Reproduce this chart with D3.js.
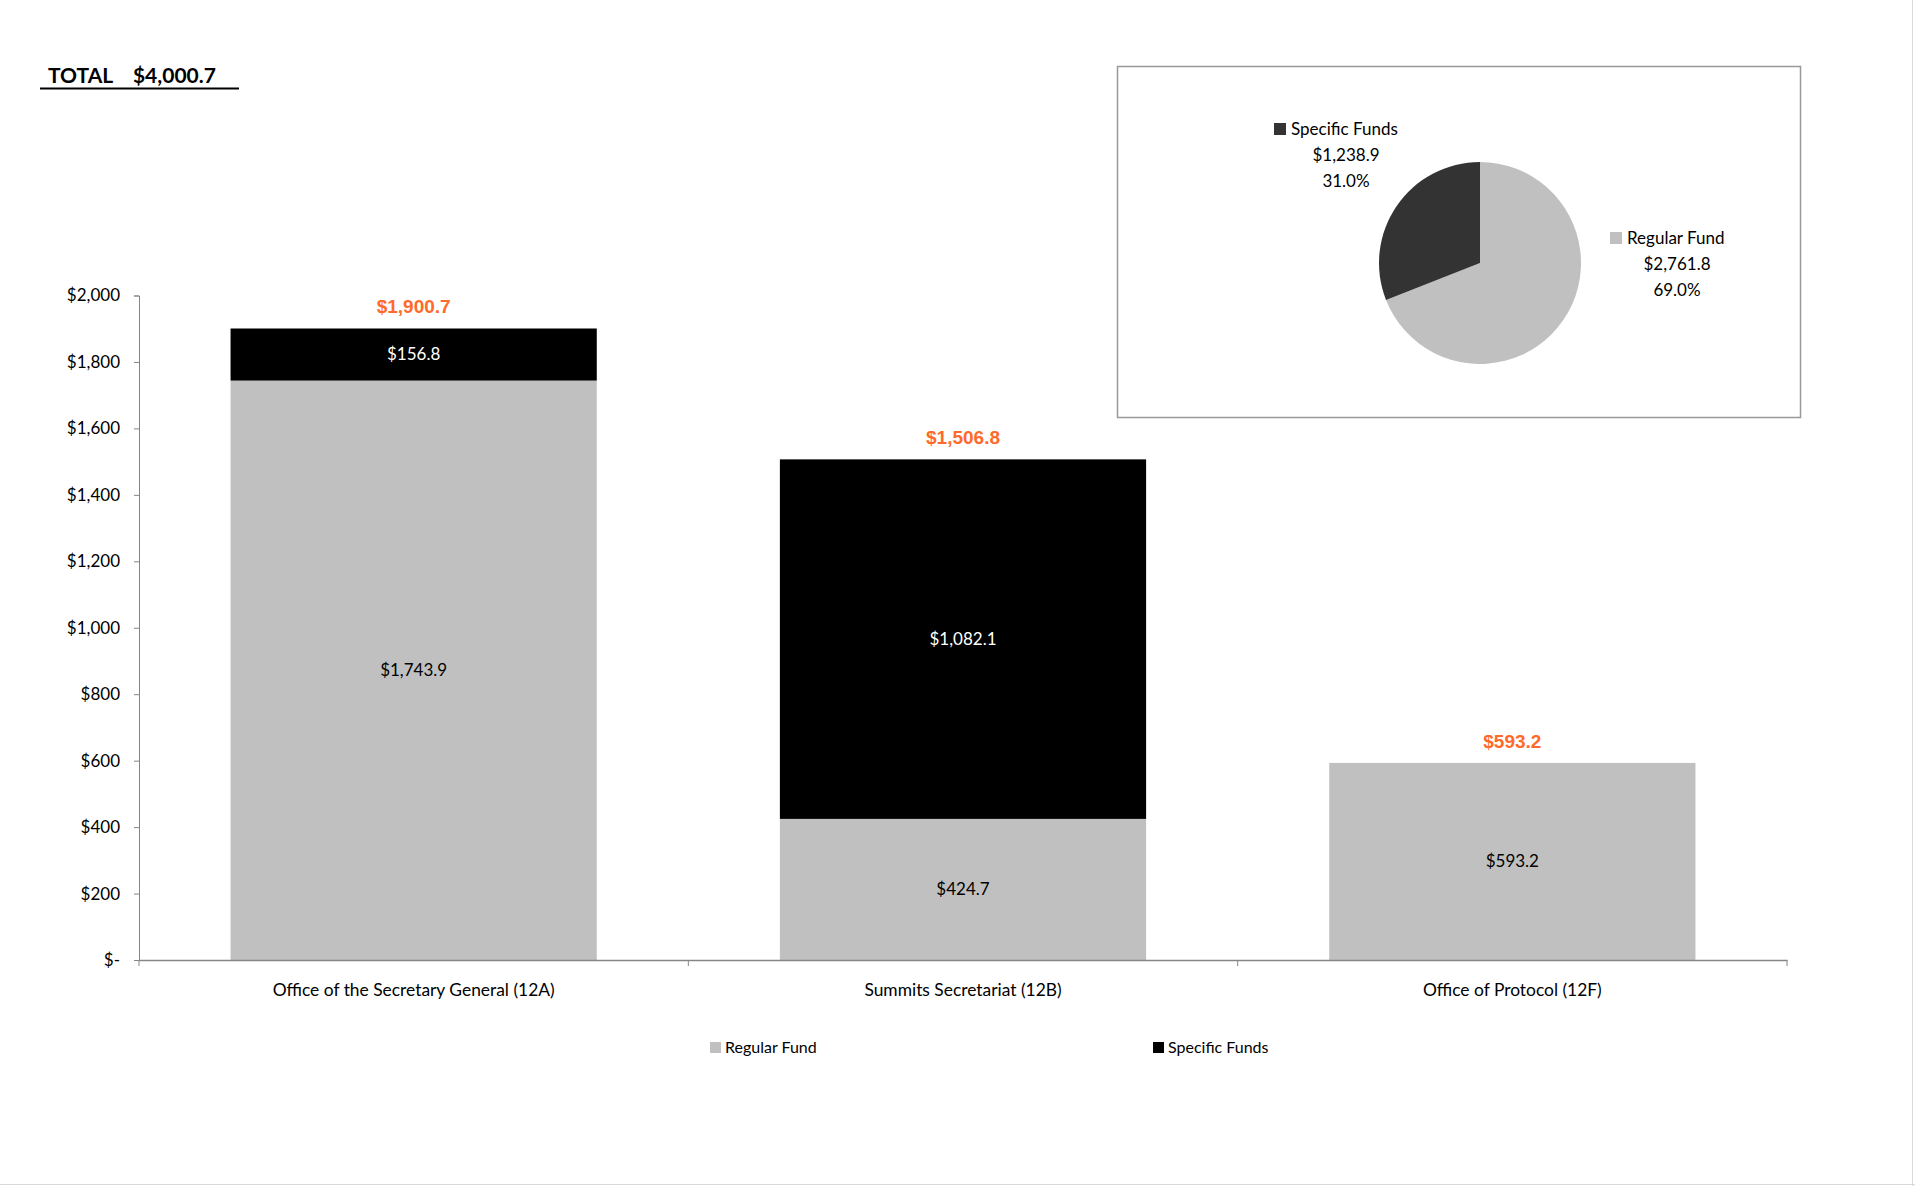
<!DOCTYPE html>
<html><head><meta charset="utf-8">
<script src="https://cdn.jsdelivr.net/npm/d3@7"></script>
<style>
html,body{margin:0;padding:0;background:#fff;}
svg{font-family:Lato,"Open Sans",sans-serif;}
</style></head>
<body>
<svg id="chart" width="1915" height="1186"></svg>
<script>
const categories = ["Office of the Secretary General (12A)", "Summits Secretariat (12B)", "Office of Protocol (12F)"];
const regularFund = [1743.9, 424.7, 593.2];
const specificFunds = [156.8, 1082.1, 0];
const totals = [1900.7, 1506.8, 593.2];
const yTicks = [0, 200, 400, 600, 800, 1000, 1200, 1400, 1600, 1800, 2000];
const seriesNames = ["Regular Fund", "Specific Funds"];
const pieNames = ["Regular Fund", "Specific Funds"];
const pieValues = [2761.8, 1238.9];
const piePercents = ["69.0%", "31.0%"];
const grandTotal = "$4,000.7";

const svg = d3.select("#chart");
const fmt = d3.format(",.1f");
const money = v => "$" + fmt(v);

// page border
svg.append("line").attr("x1",0).attr("x2",1915).attr("y1",1184.5).attr("y2",1184.5).attr("stroke","#d9d9d9").attr("stroke-width",1);
svg.append("line").attr("x1",1912.5).attr("x2",1912.5).attr("y1",0).attr("y2",1186).attr("stroke","#d9d9d9").attr("stroke-width",1);

// TOTAL header
svg.append("text").attr("x",48).attr("y",83).attr("font-size",21).attr("font-weight","bold").attr("fill","#000")
  .attr("xml:space","preserve").text("TOTAL    " + grandTotal);
svg.append("line").attr("x1",40).attr("x2",239).attr("y1",88.5).attr("y2",88.5).attr("stroke","#000").attr("stroke-width",2);

// Bar chart
const x = d3.scaleBand().domain(categories).range([139, 1787]).paddingInner(1/3).paddingOuter(1/6);
const y = d3.scaleLinear().domain([0, 2000]).range([960, 295.5]);

const stackData = categories.map((c,i)=>({cat:c, "Regular Fund":regularFund[i], "Specific Funds":specificFunds[i]}));
const stack = d3.stack().keys(seriesNames)(stackData);
const colors = {"Regular Fund":"#c0c0c0","Specific Funds":"#000000"};
const labelColors = {"Regular Fund":"#000","Specific Funds":"#fff"};

stack.forEach(s=>{
  const g = svg.append("g");
  g.selectAll("rect").data(s.filter(d=>d[1]-d[0]>0)).join("rect")
    .attr("x", d=>x(d.data.cat)).attr("width", x.bandwidth())
    .attr("y", d=>y(d[1])).attr("height", d=>y(d[0])-y(d[1]))
    .attr("fill", colors[s.key]);
  g.selectAll("text").data(s.filter(d=>d[1]-d[0]>0)).join("text")
    .attr("x", d=>x(d.data.cat)+x.bandwidth()/2)
    .attr("y", d=>(y(d[0])+y(d[1]))/2)
    .attr("dy","0.35em").attr("text-anchor","middle").attr("font-size",17)
    .attr("fill", labelColors[s.key])
    .text(d=>money(d[1]-d[0]));
});

// total labels
svg.append("g").selectAll("text").data(totals).join("text")
  .attr("x",(d,i)=>x(categories[i])+x.bandwidth()/2)
  .attr("y",d=>y(d)-22).attr("dy","0.35em").attr("text-anchor","middle")
  .style("font-family","'Liberation Sans',Arial,sans-serif").style("font-weight","bold").style("font-size","19px")
  .attr("fill","#ff6a2b").text(d=>money(d));

// y axis
const yAxis = svg.append("g").attr("transform","translate(139,0)")
  .call(d3.axisLeft(y).tickValues(yTicks).tickSize(5).tickPadding(14)
    .tickFormat(d=> d===0 ? "$-" : "$" + d3.format(",")(d)));
yAxis.attr("font-family",null);
yAxis.select(".domain").attr("stroke","#868686");
yAxis.selectAll(".tick line").attr("stroke","#868686");
yAxis.selectAll(".tick text").attr("font-size",17).attr("fill","#000");

// x axis
const xAxis = svg.append("g").attr("transform","translate(0,960)")
  .call(d3.axisBottom(x).tickSize(0).tickPadding(24));
xAxis.attr("font-family",null);
xAxis.select(".domain").attr("stroke","#868686").attr("stroke-width",1.5);
xAxis.selectAll(".tick text").attr("font-size",17.4).attr("fill","#000");
// category separators
const seps = [139].concat(categories.map(c=>x(c)+x.bandwidth()+x.step()*x.paddingInner()/2));
svg.append("g").selectAll("line").data(seps).join("line")
  .attr("x1",d=>d).attr("x2",d=>d).attr("y1",960).attr("y2",966).attr("stroke","#868686");

// bottom legend
const legendX = [710, 1153];
const lg = svg.append("g").selectAll("g").data(seriesNames).join("g")
  .attr("transform",(d,i)=>`translate(${legendX[i]},1047)`);
lg.append("rect").attr("x",0).attr("y",-5).attr("width",11).attr("height",11).attr("fill",d=>colors[d]);
lg.append("text").attr("x",15).attr("y",0).attr("dy","0.35em").attr("font-size",16).attr("fill","#000").text(d=>d);

// pie box
svg.append("rect").attr("x",1117.5).attr("y",66.5).attr("width",683).attr("height",351)
  .attr("fill","#fff").attr("stroke","#999").attr("stroke-width",1.5);

const pieColors = {"Regular Fund":"#c0c0c0","Specific Funds":"#333333"};
const pie = d3.pie().sort(null).value(d=>d.v)(pieNames.map((n,i)=>({n, v:pieValues[i], p:piePercents[i]})));
const arc = d3.arc().innerRadius(0).outerRadius(101);
const pg = svg.append("g").attr("transform","translate(1480,263)");
pg.selectAll("path").data(pie).join("path").attr("d",arc).attr("fill",d=>pieColors[d.data.n]);

const pieLabelPos = {"Regular Fund":{sq:1610, cx:1677, y:238}, "Specific Funds":{sq:1274, cx:1346, y:129}};
const pl = svg.append("g").selectAll("g").data(pie).join("g");
pl.append("rect").attr("x",d=>pieLabelPos[d.data.n].sq).attr("y",d=>pieLabelPos[d.data.n].y-6)
  .attr("width",12).attr("height",12).attr("fill",d=>pieColors[d.data.n]);
pl.append("text").attr("x",d=>pieLabelPos[d.data.n].sq+17).attr("y",d=>pieLabelPos[d.data.n].y)
  .attr("dy","0.35em").attr("font-size",17).attr("fill","#000").text(d=>d.data.n);
pl.append("text").attr("x",d=>pieLabelPos[d.data.n].cx).attr("y",d=>pieLabelPos[d.data.n].y+26)
  .attr("dy","0.35em").attr("text-anchor","middle").attr("font-size",17).attr("fill","#000").text(d=>money(d.data.v));
pl.append("text").attr("x",d=>pieLabelPos[d.data.n].cx).attr("y",d=>pieLabelPos[d.data.n].y+52)
  .attr("dy","0.35em").attr("text-anchor","middle").attr("font-size",17).attr("fill","#000").text(d=>d.data.p);
</script>
</body></html>
